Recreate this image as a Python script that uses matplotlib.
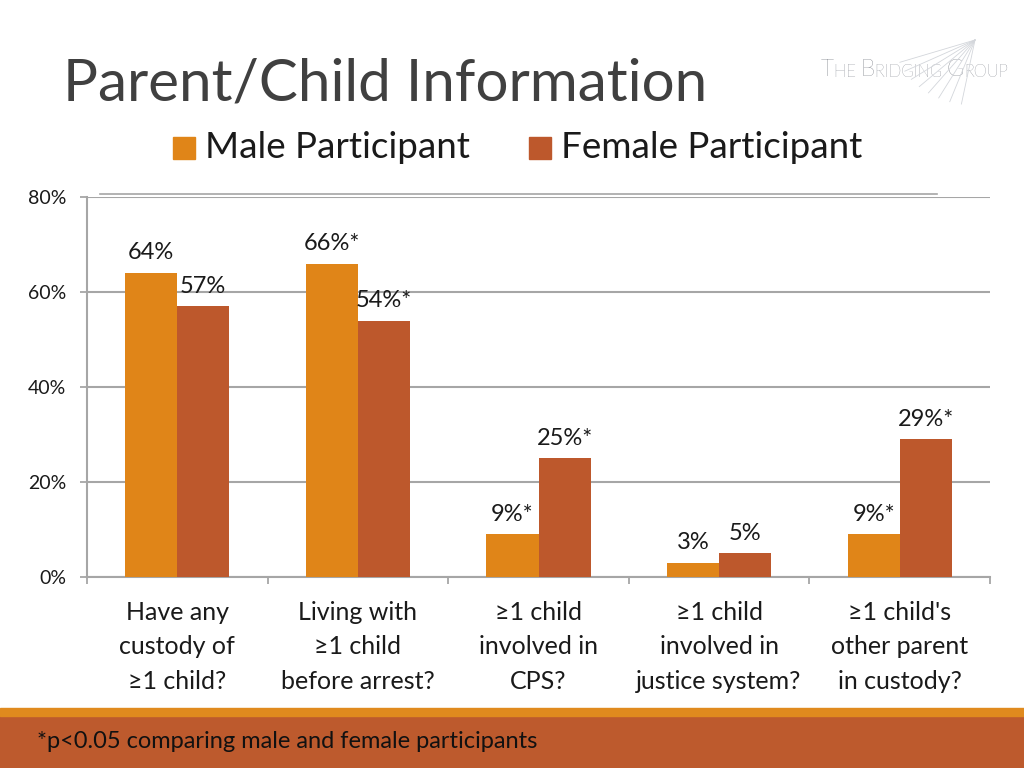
import numpy as np
import matplotlib
matplotlib.use("Agg")
import matplotlib.pyplot as plt
from matplotlib.patches import Rectangle
from matplotlib.lines import Line2D

plt.rcParams['font.family'] = ['Lato', 'DejaVu Sans']

# Datos
categorias = ["Have any\ncustody of\n≥1 child?",
              "Living with\n≥1 child\nbefore arrest?",
              "≥1 child\ninvolved in\nCPS?",
              "≥1 child\ninvolved in\njustice system?",
              "≥1 child's\nother parent\nin custody?"]
hombres = [64, 66, 9, 3, 9]
mujeres = [57, 54, 25, 5, 29]
etiquetas_h = ["64%", "66%*", "9%*", "3%", "9%*"]
etiquetas_m = ["57%", "54%*", "25%*", "5%", "29%*"]
series = ["Male Participant", "Female Participant"]

c_h = "#E08518"
c_m = "#BD582C"
gris = "#A6A6A6"

fig = plt.figure(figsize=(10.24, 7.68), dpi=100)
ax = fig.add_axes([87/1024, 1-577/768, (990-87)/1024, (577-197)/768])

x = np.arange(len(categorias))
w = 0.288
b1 = ax.bar(x - w/2, hombres, w, color=c_h, zorder=3)
b2 = ax.bar(x + w/2, mujeres, w, color=c_m, zorder=3)

for barras, etiquetas in [(b1, etiquetas_h), (b2, etiquetas_m)]:
    for barra, txt in zip(barras, etiquetas):
        ax.annotate(txt, (barra.get_x() + barra.get_width()/2, barra.get_height()),
                    xytext=(0, 7), textcoords='offset points', ha='center',
                    va='bottom', fontsize=17, color='#1a1a1a')

ax.set_xlim(-0.5, len(categorias) - 0.5)
ax.set_ylim(0, 80)
ax.set_yticks([0, 20, 40, 60, 80])
ax.set_yticklabels(["0%", "20%", "40%", "60%", "80%"], fontsize=14, color='#1a1a1a')
ax.yaxis.grid(True, color=gris, linewidth=1.5, zorder=0)
ax.tick_params(axis='y', length=5, width=1.3, color=gris, pad=10)

ax.set_xticks(np.arange(-0.5, len(categorias)), labels=[""] * (len(categorias) + 1))
ax.set_xticks(x, labels=categorias, minor=True)
ax.tick_params(axis='x', which='major', length=5, width=1.3, color=gris)
ax.tick_params(axis='x', which='minor', length=0, pad=17, labelsize=18,
               labelcolor='#1a1a1a')
for lab in ax.get_xticklabels(minor=True):
    lab.set_linespacing(1.62)

for s in ['top', 'right']:
    ax.spines[s].set_visible(False)
for s in ['left', 'bottom']:
    ax.spines[s].set_color(gris)
    ax.spines[s].set_linewidth(1.5)

# Titulo
fig.text(63/1024, 1-84/768, "Parent/Child Information", fontsize=42,
         color='#404040', va='center', ha='left')

# Leyenda
for i, (nombre, col) in enumerate(zip(series, [c_h, c_m])):
    x0 = [173, 529][i]
    fig.patches.append(Rectangle((x0/1024, 1-159/768), 22/1024, 22/768,
                                 transform=fig.transFigure, color=col))
    fig.text((x0+32)/1024, 1-148/768, nombre, fontsize=26.5, color='#1a1a1a',
             va='center', ha='left')

# Linea decorativa superior
fig.lines.append(Line2D([100/1024, 937/1024], [1-194/768, 1-194/768],
                        transform=fig.transFigure, color=gris, linewidth=1.2))

# Logo
for k in range(8):
    ang = np.linspace(0.35, 1.4, 8)[k]
    fig.lines.append(Line2D([975/1024, (975 - 80*np.cos(ang))/1024],
                            [1-40/768, 1-(40 + 65*np.sin(ang))/768],
                            transform=fig.transFigure, color='#D3D6DB', linewidth=0.6))
partes = [("T", 16.5), ("HE ", 12), ("B", 16.5), ("RIDGING ", 12), ("G", 16.5), ("ROUP", 12)]
prev = fig.text(821/1024, 1-76/768, partes[0][0], fontsize=partes[0][1],
                color='#3f4450', va='baseline', ha='left', fontweight='light')
for txt, fs in partes[1:]:
    prev = ax.annotate(txt, xy=(1, 0), xycoords=prev, xytext=(0, 0),
                       textcoords='offset points', fontsize=fs, color='#3f4450',
                       va='bottom', ha='left', fontweight='light',
                       annotation_clip=False)

# Pie
fig.patches.append(Rectangle((0, 0), 1, 52/768, transform=fig.transFigure,
                             color="#BD5A2D", zorder=0))
fig.patches.append(Rectangle((0, 52/768), 1, 8/768, transform=fig.transFigure,
                             color="#E08A1E", zorder=0))
fig.text(37/1024, 1-741/768, "*p<0.05 comparing male and female participants",
         fontsize=17, color='#111111', va='center', ha='left')

fig.savefig("out.png", dpi=100)
